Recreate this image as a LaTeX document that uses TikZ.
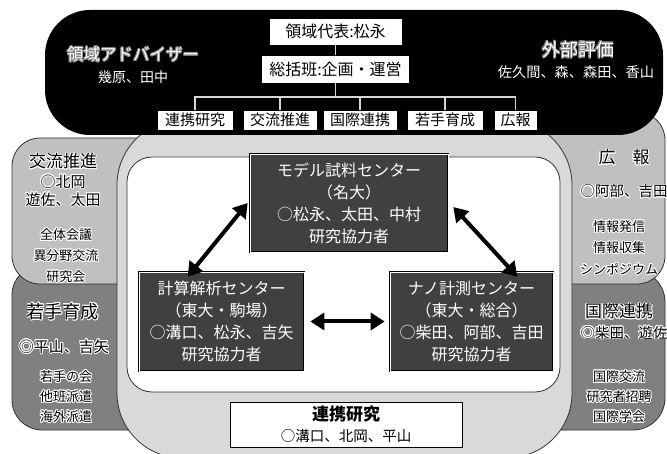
\documentclass[tikz,border=0pt]{standalone}
\usepackage{fontspec}
\setmainfont{Noto Sans CJK JP}
\usepackage{contour}
\contourlength{0.9pt}
\usetikzlibrary{arrows.meta}
\definecolor{panelL}{RGB}{192,192,192}
\definecolor{panelD}{RGB}{128,128,128}
\definecolor{central}{RGB}{217,217,217}
\definecolor{boxdark}{RGB}{64,64,64}
\definecolor{edge}{RGB}{50,50,50}
\definecolor{treeline}{RGB}{215,215,215}
\newcommand\fs[2]{\fontsize{#1}{#2}\selectfont}
\newcommand\hw[1]{\contour{white}{#1}}
\newcommand\hg[1]{\contour{gray}{#1}}
\begin{document}
\begin{tikzpicture}[x=1pt,y=-1pt,
  panel/.style={draw=edge, line width=0.8pt},
  tbox/.style={draw=black, fill=white, line width=0.6pt, inner sep=0pt, font=\fs{16}{18}},
  sbox/.style={draw=black, fill=white, line width=0.6pt, inner sep=0pt, minimum height=20pt, font=\fs{15}{16}},
  tline/.style={draw=treeline, line width=1.4pt},
  center box/.style={draw=black, double=white, double distance=0.6pt, line width=0.7pt, fill=boxdark,
    text=white, inner sep=0pt, align=center, font=\fs{16}{22}},
  bigarrow/.style={line width=4pt, {Triangle[length=14pt,width=17pt]}-{Triangle[length=14pt,width=17pt]}},
  sidetext/.style={inner sep=0pt, align=center, text=black},
]
\useasboundingbox (0,0) rectangle (667,454);

% side panels
\path[panel, fill=panelD, rounded corners=30pt] (12,265) rectangle (170,430);
\path[panel, fill=panelL, rounded corners=28pt] (12,138) rectangle (170,284);
\path[panel, fill=panelD, rounded corners=32pt] (520,270) rectangle (665,430);
\path[panel, fill=panelL, rounded corners=28pt] (520,112) rectangle (665,284);

% central region
\path[panel, fill=central, rounded corners=65pt] (117,120) rectangle (572,458);

% top black box
\path[fill=black, rounded corners=45pt] (45,10) rectangle (663,135);

% inner white area
\path[panel, fill=white, rounded corners=25pt] (127,157) rectangle (560,392);

% top tree
\node[tbox, minimum width=133pt, minimum height=27pt] (rep) at (335.5,31.5) {領域代表:松永};
\node[tbox, minimum width=148pt, minimum height=28pt] (sok) at (335.5,69) {総括班:企画・運営};
\coordinate (bus) at (335.5,97);
\node[sbox, minimum width=76pt] (b1) at (195,120) {連携研究};
\node[sbox, minimum width=74pt] (b2) at (280,120) {交流推進};
\node[sbox, minimum width=74pt] (b3) at (360,120) {国際連携};
\node[sbox, minimum width=76pt] (b4) at (445,120) {若手育成};
\node[sbox, minimum width=43pt] (b5) at (515.5,120) {広報};
\draw[tline] (rep.south) -- (sok.north);
\draw[tline] (sok.south) -- (bus);
\foreach \n in {b1,b2,b3,b4,b5} \draw[tline] (bus) -| (\n.north);

% top texts
\node[text=white, inner sep=0pt, font=\fs{16.5}{18}] (adv) at (133,55) {\hg{領域アドバイザー}};
\node[text=white, inner sep=0pt, font=\fs{14}{16}] (advn) at (133,77) {幾原、田中};
\node[text=white, inner sep=0pt, font=\fs{18}{20}] (ext) at (578,50) {\hg{外部評価}};
\node[text=white, inner sep=0pt, font=\fs{14.2}{16}] (extn) at (576,72) {佐久間、森、森田、香山};

% center boxes
\node[center box, minimum width=198pt, minimum height=98pt] (model) at (349,203)
  {モデル試料センター\\（名大）\\○松永、太田、中村\\研究協力者};
\node[center box, minimum width=165pt, minimum height=99pt] (keisan) at (221.5,321.5)
  {計算解析センター\\（東大・駒場）\\○溝口、松永、吉矢\\研究協力者};
\node[center box, minimum width=163pt, minimum height=99pt] (nano) at (471.5,321.5)
  {ナノ計測センター\\（東大・総合）\\○柴田、阿部、吉田\\研究協力者};

% arrows
\draw[bigarrow] ([xshift=49pt,yshift=-5pt]keisan.north west) -- ([xshift=-2pt]model.west);
\draw[bigarrow] ([xshift=5pt,yshift=-4pt]model.east) -- ([xshift=-36pt,yshift=-5pt]nano.north east);
\draw[bigarrow] ([xshift=6pt]keisan.east) -- ([xshift=-5pt]nano.west);

% bottom box
\node[draw=black, fill=white, line width=0.7pt, minimum width=232pt, minimum height=45pt,
  inner sep=0pt, align=center, font=\fs{14.5}{21}] (renkei) at (346,424.5)
  {{\fs{17}{21}\bfseries 連携研究}\\○溝口、北岡、平山};

% left panel texts
\node[sidetext, font=\fs{17}{20}] (kh) at (63,162) {\hw{交流推進}};
\node[sidetext, font=\fs{15}{18}] (kn) at (63,191) {\hw{○北岡}\\\hw{遊佐、太田}};
\node[sidetext, font=\fs{13}{21}] (ki) at (66,256) {\hw{全体会議}\\\hw{異分野交流}\\\hw{研究会}};
\node[sidetext, font=\fs{18}{20}] (wh) at (63,312) {\hw{若手育成}};
\node[sidetext, font=\fs{15}{18}] (wn) at (64,347) {\hw{◎平山、吉矢}};
\node[sidetext, font=\fs{13}{20}] (wi) at (66,397) {\hw{若手の会}\\\hw{他班派遣}\\\hw{海外派遣}};

% right panel texts
\node[sidetext, font=\fs{17}{20}] (ph) at (624,158) {\hw{広　報}};
\node[sidetext, font=\fs{14.5}{18}] (pn) at (624,192) {\hw{○阿部、吉田}};
\node[sidetext, font=\fs{13}{21.5}] (pi) at (619,248) {\hw{情報発信}\\\hw{情報収集}\\\hw{シンポジウム}};
\node[sidetext, font=\fs{17}{20}] (ih) at (619,312) {\hw{国際連携}};
\node[sidetext, font=\fs{14.5}{18}] (inn) at (624,333) {\hw{◎柴田、遊佐}};
\node[sidetext, font=\fs{13}{20}] (ii) at (619,397) {\hw{国際交流}\\\hw{研究者招聘}\\\hw{国際学会}};
\end{tikzpicture}
\end{document}
